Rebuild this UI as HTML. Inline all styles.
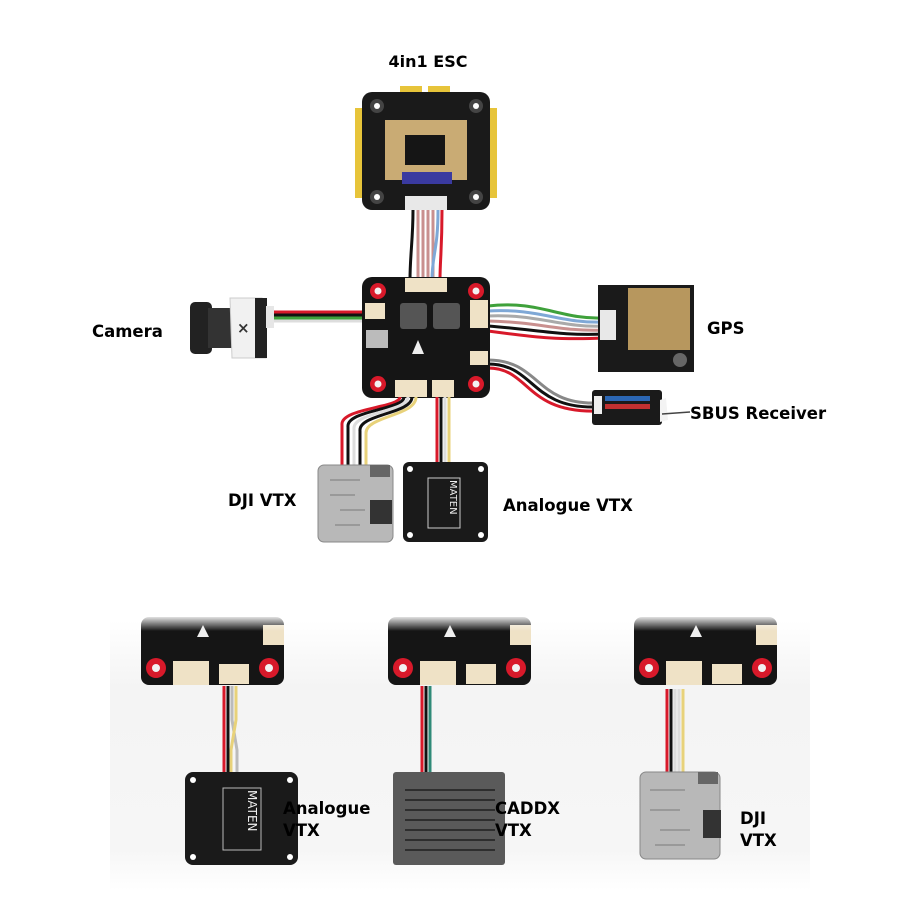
<!DOCTYPE html>
<html><head><meta charset="utf-8"><style>
html,body{margin:0;padding:0;background:#fff;}
svg{display:block}
text{font-family:"DejaVu Sans","Liberation Sans",sans-serif;font-weight:bold;fill:#000;}
</style></head><body>
<svg width="900" height="900" viewBox="0 0 900 900" xmlns="http://www.w3.org/2000/svg">
<defs>
<linearGradient id="bg" x1="0" y1="0" x2="0" y2="1">
<stop offset="0" stop-color="#fff"/><stop offset="0.25" stop-color="#f4f4f4"/><stop offset="0.85" stop-color="#f6f6f6"/><stop offset="1" stop-color="#fff"/></linearGradient>
<linearGradient id="fade" x1="0" y1="0" x2="0" y2="1">
<stop offset="0" stop-color="#fff" stop-opacity="1"/><stop offset="1" stop-color="#fff" stop-opacity="0"/></linearGradient>
<g id="hole"><circle r="8" fill="#d8192a"/><circle r="3.5" fill="#f2f2f2"/></g>
<g id="mini">
<rect x="0" y="2" width="143" height="68" rx="8" fill="#151515"/>
<circle cx="15" cy="53" r="10" fill="#d8192a"/><circle cx="15" cy="53" r="4" fill="#f2f2f2"/>
<circle cx="128" cy="53" r="10" fill="#d8192a"/><circle cx="128" cy="53" r="4" fill="#f2f2f2"/>
<rect x="32" y="46" width="36" height="24" fill="#efe2c6"/>
<rect x="78" y="49" width="30" height="20" fill="#efe2c6"/>
<rect x="122" y="10" width="21" height="20" fill="#efe2c6"/>
<polygon points="62,10 56,22 68,22" fill="#eee"/>
<rect x="0" y="0" width="145" height="16" fill="url(#fade)"/>
</g>
</defs>
<rect width="900" height="900" fill="#fff"/>

<!-- ESC -->
<text x="428" y="67" font-size="16" text-anchor="middle">4in1 ESC</text>
<rect x="355" y="108" width="8" height="90" fill="#e7c43a"/>
<rect x="489" y="108" width="8" height="90" fill="#e7c43a"/>
<rect x="400" y="86" width="22" height="10" fill="#e7c43a"/><rect x="428" y="86" width="22" height="10" fill="#e7c43a"/>
<rect x="362" y="92" width="128" height="118" rx="10" fill="#1a1a1a"/>
<circle cx="377" cy="106" r="7" fill="#444"/><circle cx="377" cy="106" r="3" fill="#fff"/>
<circle cx="476" cy="106" r="7" fill="#444"/><circle cx="476" cy="106" r="3" fill="#fff"/>
<circle cx="377" cy="197" r="7" fill="#444"/><circle cx="377" cy="197" r="3" fill="#fff"/>
<circle cx="476" cy="197" r="7" fill="#444"/><circle cx="476" cy="197" r="3" fill="#fff"/>
<rect x="385" y="120" width="82" height="60" fill="#c9ab74"/>
<rect x="405" y="135" width="40" height="30" fill="#151515"/>
<rect x="402" y="172" width="50" height="12" fill="#3a3aa0"/>
<rect x="405" y="196" width="42" height="14" fill="#e8e8e8"/>

<g fill="none" stroke-width="3">
<path d="M413 210 C413 240 410 255 410 280" stroke="#111"/>
<path d="M418 210 L418 280" stroke="#c9908f"/>
<path d="M423 210 L423 280" stroke="#c9908f"/>
<path d="M428 210 L428 280" stroke="#c9908f"/>
<path d="M433 210 L433 280" stroke="#c9908f"/>
<path d="M438 210 C438 250 432 255 432 280" stroke="#7fa8d6"/>
<path d="M442 210 C442 250 440 260 440 280" stroke="#d8192a"/>
</g>

<g fill="none" stroke-width="3">
<path d="M272 312 L368 312" stroke="#d8192a"/>
<path d="M272 315 L368 315" stroke="#111"/>
<path d="M272 318 L368 318" stroke="#3fa13b"/>
<path d="M272 321 L368 321" stroke="#ddd"/>
</g>
<rect x="190" y="302" width="22" height="52" rx="5" fill="#222"/>
<rect x="208" y="308" width="30" height="40" fill="#333"/>
<path d="M230 298 L262 298 L266 358 L232 358 Z" fill="#f1f1f1" stroke="#ccc"/>
<rect x="255" y="298" width="12" height="60" fill="#222"/>
<text x="237" y="333" font-size="15" style="fill:#333">×</text>
<rect x="266" y="306" width="8" height="22" fill="#e6e6e6"/>
<text x="92" y="337" font-size="16.5">Camera</text>

<g fill="none" stroke-width="3">
<path d="M488 306 C540 300 560 320 605 318" stroke="#3fa13b"/>
<path d="M488 311 C540 308 560 324 605 322" stroke="#7fa8d6"/>
<path d="M488 316 C540 314 560 328 605 326" stroke="#aaa"/>
<path d="M488 321 C540 322 560 332 605 330" stroke="#c9908f"/>
<path d="M488 326 C540 330 560 336 605 334" stroke="#111"/>
<path d="M488 331 C540 338 560 340 605 338" stroke="#d8192a"/>
</g>
<rect x="598" y="285" width="96" height="87" fill="#1a1a1a"/>
<rect x="628" y="288" width="62" height="62" fill="#b7975e"/>
<rect x="600" y="310" width="16" height="30" fill="#e8e8e8"/>
<circle cx="680" cy="360" r="7" fill="#666"/>
<text x="707" y="334" font-size="16.5">GPS</text>

<g fill="none" stroke-width="3">
<path d="M488 360 C540 360 535 405 597 403" stroke="#888"/>
<path d="M488 364 C535 364 530 409 597 407" stroke="#111"/>
<path d="M488 368 C530 368 525 413 597 411" stroke="#d8192a"/>
</g>
<rect x="592" y="390" width="70" height="35" rx="3" fill="#1a1a1a"/>
<rect x="594" y="396" width="8" height="18" fill="#eee"/>
<rect x="605" y="396" width="45" height="5" fill="#2b66b3"/>
<rect x="605" y="404" width="45" height="5" fill="#c03030"/>
<path d="M660 400 L666 398 L668 420 L660 422 Z" fill="#f3f3f3"/>
<line x1="662" y1="414" x2="690" y2="412" stroke="#444" stroke-width="1.5"/>
<text x="690" y="419" font-size="16.5">SBUS Receiver</text>

<rect x="362" y="277" width="128" height="121" rx="10" fill="#151515"/>
<use href="#hole" x="378" y="291"/><use href="#hole" x="476" y="291"/>
<use href="#hole" x="378" y="384"/><use href="#hole" x="476" y="384"/>
<rect x="405" y="278" width="42" height="14" fill="#efe2c6"/>
<rect x="365" y="303" width="20" height="16" fill="#efe2c6"/>
<rect x="470" y="300" width="18" height="28" fill="#efe2c6"/>
<rect x="470" y="351" width="18" height="14" fill="#efe2c6"/>
<rect x="395" y="380" width="32" height="17" fill="#efe2c6"/>
<rect x="432" y="380" width="22" height="17" fill="#efe2c6"/>
<rect x="400" y="303" width="27" height="26" rx="3" fill="#555"/>
<rect x="433" y="303" width="27" height="26" rx="3" fill="#555"/>
<rect x="366" y="330" width="22" height="18" fill="#bbb"/>
<polygon points="418,340 412,354 424,354" fill="#eee"/>

<g fill="none" stroke-width="3">
<path d="M400 397 C400 408 340 408 342 425 L342 470" stroke="#d8192a"/>
<path d="M404 397 C404 410 346 410 348 427 L348 470" stroke="#111"/>
<path d="M408 397 C408 412 352 412 354 429 L354 470" stroke="#ddd"/>
<path d="M412 397 C412 414 358 414 360 431 L360 470" stroke="#111"/>
<path d="M416 397 C416 416 366 416 366 433 L366 470" stroke="#e8d27a"/>
<path d="M437 397 L437 462" stroke="#d8192a"/>
<path d="M441 397 L441 462" stroke="#111"/>
<path d="M445 397 L445 462" stroke="#ddd"/>
<path d="M449 397 L449 462" stroke="#e8d27a"/>
</g>
<rect x="318" y="465" width="75" height="77" rx="6" fill="#b8b8b8" stroke="#888"/>
<rect x="370" y="465" width="20" height="12" fill="#666"/>
<rect x="370" y="500" width="22" height="24" fill="#333"/>
<path d="M330 480 L360 480 M330 495 L355 495 M340 510 L365 510 M335 525 L360 525" stroke="#999" stroke-width="2"/>
<text x="228" y="506" font-size="16.5">DJI VTX</text>
<rect x="403" y="462" width="85" height="80" rx="6" fill="#1a1a1a"/>
<circle cx="410" cy="469" r="3" fill="#fff"/><circle cx="481" cy="469" r="3" fill="#fff"/>
<circle cx="410" cy="535" r="3" fill="#fff"/><circle cx="481" cy="535" r="3" fill="#fff"/>
<rect x="428" y="478" width="32" height="50" fill="none" stroke="#ccc" stroke-width="1"/>
<text x="450" y="480" font-size="10" style="fill:#eee;font-weight:normal" transform="rotate(90 450 480)">MATEN</text>
<text x="503" y="511" font-size="16.5">Analogue VTX</text>

<rect x="110" y="620" width="700" height="270" fill="url(#bg)"/>
<use href="#mini" x="141" y="615"/>
<use href="#mini" x="388" y="615"/>
<use href="#mini" x="634" y="615"/>

<g fill="none" stroke-width="3">
<path d="M224 686 L224 772" stroke="#d8192a"/>
<path d="M228 686 L228 772" stroke="#111"/>
<path d="M232 686 L232 720 L237 750 L237 772" stroke="#bbb"/>
<path d="M236 686 L236 720 L231 750 L231 772" stroke="#e8d27a"/>
<path d="M422 686 L422 773" stroke="#d8192a"/>
<path d="M426 686 L426 773" stroke="#111"/>
<path d="M430 686 L430 773" stroke="#2f8a78"/>
<path d="M667 689 L667 775" stroke="#d8192a"/>
<path d="M671 689 L671 775" stroke="#111"/>
<path d="M675 689 L675 775" stroke="#ddd"/>
<path d="M679 689 L679 775" stroke="#ddd"/>
<path d="M683 689 L683 775" stroke="#e8d27a"/>
</g>
<rect x="185" y="772" width="113" height="93" rx="8" fill="#1a1a1a"/>
<circle cx="193" cy="780" r="3" fill="#fff"/><circle cx="290" cy="780" r="3" fill="#fff"/>
<circle cx="193" cy="857" r="3" fill="#fff"/><circle cx="290" cy="857" r="3" fill="#fff"/>
<rect x="223" y="788" width="38" height="62" fill="none" stroke="#bbb"/>
<text x="248" y="790" font-size="12" style="fill:#eee;font-weight:normal" transform="rotate(90 248 790)">MATEN</text>
<text x="283" y="814" font-size="16.5">Analogue</text>
<text x="283" y="836" font-size="16.5">VTX</text>
<rect x="393" y="772" width="112" height="93" rx="3" fill="#5a5a5a"/>
<g stroke="#2e2e2e" stroke-width="2">
<line x1="405" y1="790" x2="495" y2="790"/><line x1="405" y1="800" x2="495" y2="800"/>
<line x1="405" y1="810" x2="495" y2="810"/><line x1="405" y1="820" x2="495" y2="820"/>
<line x1="405" y1="830" x2="495" y2="830"/><line x1="405" y1="840" x2="495" y2="840"/>
<line x1="405" y1="850" x2="495" y2="850"/>
</g>
<text x="495" y="814" font-size="16.5">CADDX</text>
<text x="495" y="836" font-size="16.5">VTX</text>
<rect x="640" y="772" width="80" height="87" rx="6" fill="#b8b8b8" stroke="#888"/>
<rect x="698" y="772" width="20" height="12" fill="#666"/>
<rect x="703" y="810" width="18" height="28" fill="#333"/>
<path d="M650 790 L685 790 M650 810 L680 810 M660 830 L690 830 M655 845 L685 845" stroke="#999" stroke-width="2"/>
<text x="740" y="824" font-size="16.5">DJI</text>
<text x="740" y="846" font-size="16.5">VTX</text>
</svg>
</body></html>
